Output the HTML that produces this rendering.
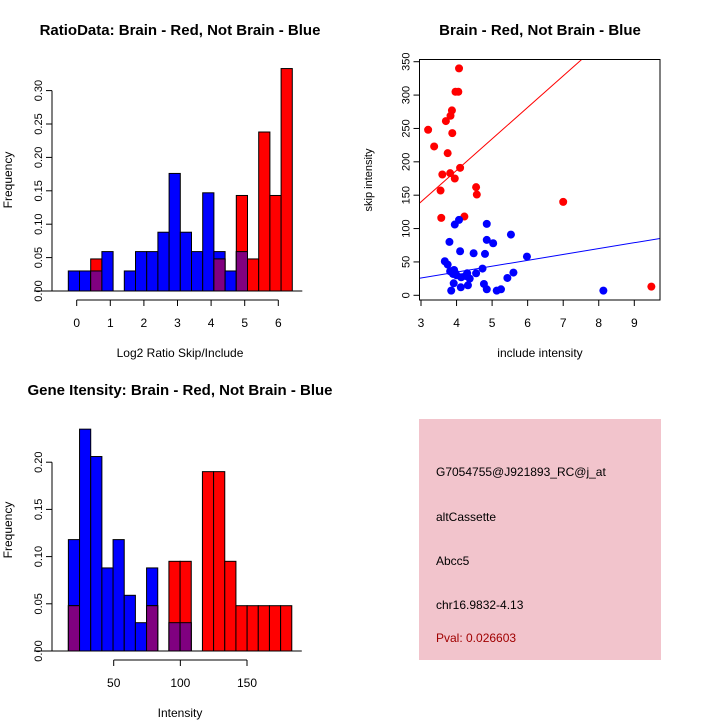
<!DOCTYPE html>
<html><head><meta charset="utf-8"><style>
html,body{margin:0;padding:0;background:#fff;}
svg{display:block;font-family:"Liberation Sans",sans-serif;}
</style></head><body>
<svg id="s" width="720" height="720" xmlns="http://www.w3.org/2000/svg">
<rect x="0" y="0" width="720" height="720" fill="#fff"/>
<g id="ratio"></g>
<g id="scatter"></g>
<g id="gene"></g>
<g>
<rect x="419" y="419" width="242" height="241" fill="#f2c4cc"/>
<g font-size="12" fill="#000">
<text x="436" y="476">G7054755@J921893_RC@j_at</text>
<text x="436" y="521">altCassette</text>
<text x="436" y="565">Abcc5</text>
<text x="436" y="609">chr16.9832-4.13</text>
<text x="436" y="642" fill="#a00000">Pval: 0.026603</text>
</g></g>
</svg>
<script>
const NS='http://www.w3.org/2000/svg';
function mk(p,tag,a){const e=document.createElementNS(NS,tag);for(const k in a)e.setAttribute(k,a[k]);p.appendChild(e);return e;}

// ---- ratio histogram data
const ratioBinStart=-0.25;
const ratioBinWidth=1/3;
const ratioBlue=[0.03,0.03,0.03,0.059,0,0.03,0.059,0.059,0.088,0.176,0.088,0.059,0.147,0.059,0.03,0.059,0,0,0,0];
const ratioRed=[0,0,0.048,0,0,0,0,0,0,0,0,0,0,0.048,0,0.143,0.048,0.238,0.143,0.333];
const ratioXTicks=[0,1,2,3,4,5,6];
const ratioYTicks=["0.00","0.05","0.10","0.15","0.20","0.25","0.30"];

// ---- scatter data
const redX=[3.2,3.37,3.55,3.57,3.6,3.7,3.75,3.82,3.83,3.87,3.88,3.95,3.97,4.05,4.07,4.1,4.22,4.55,4.57,7.0,9.48];
const redY=[248,223,157,116,181,261,213,183,269,277,243,175,305,305,340,191,118,162,151,140,13];
const blueX=[3.67,3.75,3.8,3.82,3.85,3.9,3.92,3.93,3.95,3.97,4.0,4.07,4.1,4.12,4.13,4.25,4.3,4.32,4.37,4.48,4.55,4.73,4.77,4.8,4.85,4.85,4.85,5.03,5.13,5.25,5.43,5.53,5.6,5.98,8.13];
const blueY=[51,46,80,36,7,32,18,38,106,33,30,113,66,12,27,29,33,15,25,63,33,40,17,62,83,107,9,78,7,9,26,91,34,58,7];
const redFit=[-1.6,47.2];
const blueFit=[-0.4,8.8];
const scatterXTicks=[3,4,5,6,7,8,9];
const scatterYTicks=[0,50,100,150,200,250,300,350];

// ---- gene histogram data
const geneBinStart=16;
const geneBinWidth=8.38;
const geneBlue=[0.118,0.235,0.206,0.088,0.118,0.059,0.03,0.088,0,0.03,0.03,0,0,0,0,0,0,0,0,0];
const geneRed=[0.048,0,0,0,0,0,0,0.048,0,0.095,0.095,0,0.19,0.19,0.095,0.048,0.048,0.048,0.048,0.048];
const geneXTicks=[50,100,150];
const geneYTicks=["0.00","0.05","0.10","0.15","0.20"];

function histogram(g,o){
  const X=v=>o.x0+(v-o.xv0)*o.xs, Y=v=>o.y0-v*o.ys;
  const n=o.blue.length;
  for(let i=0;i<n;i++){
    const a=X(o.bs+i*o.bw), b=X(o.bs+(i+1)*o.bw);
    const layers=[[o.blue[i],'#0000ff','blue'],[o.red[i],'#ff0000','red'],[Math.min(o.blue[i],o.red[i]),'#800080','overlap']];
    layers.forEach(([v,c,nm])=>{
      if(v<=0)return;
      const r=mk(g,'rect',{x:a,y:Y(v),width:b-a,height:Y(0)-Y(v),fill:c,stroke:'#000','stroke-width':1});
      
      
    });
  }
  mk(g,'line',{x1:o.axX-18,y1:Y(0),x2:X(o.bs+n*o.bw)+10,y2:Y(0),stroke:'#000'});
  const yt=o.yt;
  const ya=mk(g,'g',{});
  
  
  mk(ya,'line',{x1:o.axX,y1:Y(0),x2:o.axX,y2:Y(parseFloat(yt[yt.length-1])),stroke:'#000'});
  yt.forEach(t=>{const v=parseFloat(t);mk(ya,'line',{x1:o.axX-6,y1:Y(v),x2:o.axX,y2:Y(v),stroke:'#000'});
    const tx=mk(ya,'text',{x:0,y:0,'font-size':11,'text-anchor':'middle',transform:`translate(${o.axX-10},${Y(v)}) rotate(-90)`});tx.textContent=t;});
  const xa=mk(g,'g',{});
  
  
  const xt=o.xt;
  mk(xa,'line',{x1:X(xt[0]),y1:o.xaY,x2:X(xt[xt.length-1]),y2:o.xaY,stroke:'#000'});
  xt.forEach(v=>{mk(xa,'line',{x1:X(v),y1:o.xaY,x2:X(v),y2:o.xaY+6,stroke:'#000'});
    const tx=mk(xa,'text',{x:X(v),y:o.xaY+27,'font-size':12,'text-anchor':'middle'});tx.textContent=v;});
  const xl=mk(g,'text',{x:o.xlX,y:o.xlY,'font-size':12,'text-anchor':'middle'});xl.textContent=o.xl;
  
  const yl=mk(g,'text',{x:0,y:0,'font-size':12,'text-anchor':'middle',transform:`translate(12,${o.ylY}) rotate(-90)`});yl.textContent='Frequency';
  
  const ti=mk(g,'text',{x:o.tX,y:o.tY,'font-size':15,'font-weight':'bold','text-anchor':'middle'});ti.textContent=o.title;
  
}

histogram(document.getElementById('ratio'),{x0:76.7,xv0:0,xs:33.6,y0:291,ys:668,blue:ratioBlue,red:ratioRed,bs:ratioBinStart,bw:ratioBinWidth,
  axX:52,xaY:300,yt:ratioYTicks,xt:ratioXTicks,xl:'Log2 Ratio Skip/Include',xlX:180,xlY:357,ylY:180,tX:180,tY:35,title:'RatioData: Brain - Red, Not Brain - Blue'});
histogram(document.getElementById('gene'),{x0:113.7,xv0:50,xs:1.333,y0:651,ys:944,blue:geneBlue,red:geneRed,bs:geneBinStart,bw:geneBinWidth,
  axX:52,xaY:660,yt:geneYTicks,xt:geneXTicks,xl:'Intensity',xlX:180,xlY:717,ylY:530,tX:180,tY:395,title:'Gene Itensity: Brain - Red, Not Brain - Blue'});

(function(){
  const g=document.getElementById('scatter');
  const L=419.5,R=660,T=59.5,B=300;
  const X=v=>421+(v-3)*35.55, Y=v=>295.3-v*0.6674;
  const clip=mk(g,'clipPath',{id:'sc'});mk(clip,'rect',{x:L,y:T,width:R-L,height:B-T});
  const lines=mk(g,'g',{'clip-path':'url(#sc)'});
  [[redFit,'#ff0000','red'],[blueFit,'#0000ff','blue']].forEach(([f,c,nm])=>{
    const l=mk(lines,'line',{x1:X(2.9),y1:Y(f[0]+f[1]*2.9),x2:X(10),y2:Y(f[0]+f[1]*10),stroke:c,'stroke-width':1});
    
  });
  redX.forEach((x,i)=>{const c=mk(g,'circle',{cx:X(x),cy:Y(redY[i]),r:4,fill:'#ff0000'});
    });
  blueX.forEach((x,i)=>{const c=mk(g,'circle',{cx:X(x),cy:Y(blueY[i]),r:4,fill:'#0000ff'});
    });
  mk(g,'rect',{x:L,y:T,width:R-L,height:B-T,fill:'none',stroke:'#000'});
  scatterXTicks.forEach(v=>{mk(g,'line',{x1:X(v),y1:B,x2:X(v),y2:B+6,stroke:'#000'});
    const t=mk(g,'text',{x:X(v),y:B+27,'font-size':12,'text-anchor':'middle'});t.textContent=v;});
  scatterYTicks.forEach(v=>{mk(g,'line',{x1:L-6,y1:Y(v),x2:L,y2:Y(v),stroke:'#000'});
    const t=mk(g,'text',{x:0,y:0,'font-size':11,'text-anchor':'middle',transform:`translate(${L-10},${Y(v)}) rotate(-90)`});t.textContent=v;});
  const xl=mk(g,'text',{x:540,y:357,'font-size':12,'text-anchor':'middle'});xl.textContent='include intensity';
  
  const yl=mk(g,'text',{x:0,y:0,'font-size':11,'text-anchor':'middle',transform:`translate(372,180) rotate(-90)`});yl.textContent='skip intensity';
  
  const ti=mk(g,'text',{x:540,y:35,'font-size':15,'font-weight':'bold','text-anchor':'middle'});ti.textContent='Brain - Red, Not Brain - Blue';
  
})();
</script>
</body></html>
